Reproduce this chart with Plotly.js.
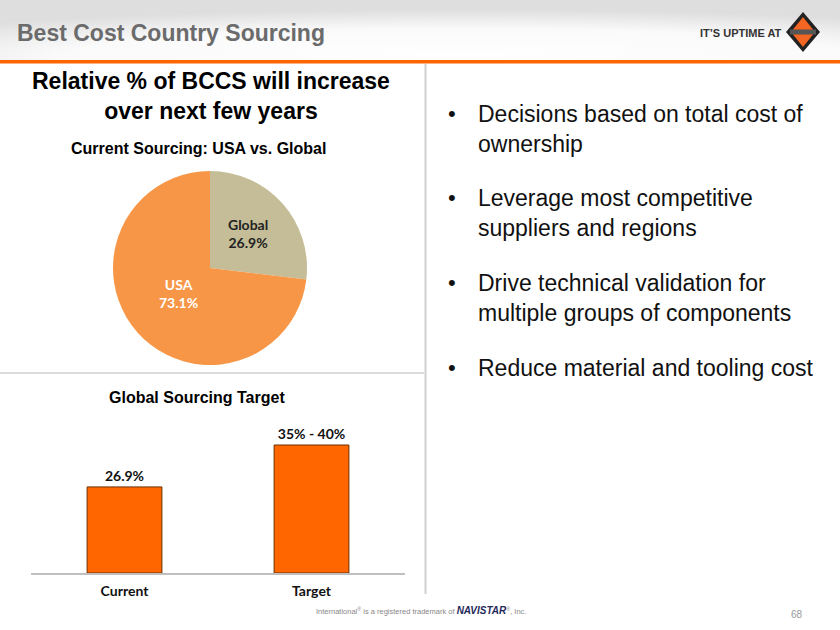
<!DOCTYPE html>
<html>
<head>
<meta charset="utf-8">
<script src="https://cdn.plot.ly/plotly-3.0.1.min.js"></script>
<style>html,body{margin:0;padding:0;background:#fff;}#chart{width:840px;height:630px;}</style>
</head>
<body>
<div id="chart"></div>
<script>
// ---- data ----
const pieLabels = ["Global", "USA"];
const pieValues = [26.9, 73.1];
const pieColors = ["#C4BD97", "#F79646"];

const barCategories = ["Current", "Target"];
const barValues = [26.9, 40];
const barLabels = ["26.9%", "35% - 40%"];

const bullets = [
  ["Decisions based on total cost of", "ownership"],
  ["Leverage most competitive", "suppliers and regions"],
  ["Drive technical validation for", "multiple groups of components"],
  ["Reduce material and tooling cost"]
];

const W = 840, H = 630;
const px = x => x / W;
const py = y => 1 - y / H;

const headerSvg = 'data:image/svg+xml;utf8,' + encodeURIComponent(
  '<svg xmlns="http://www.w3.org/2000/svg" width="840" height="61">' +
  '<defs><radialGradient id="g" cx="0.55" cy="0.95" r="0.8">' +
  '<stop offset="0" stop-color="#ffffff"/><stop offset="0.6" stop-color="#fafafa"/><stop offset="1" stop-color="#dedede"/>' +
  '</radialGradient></defs><rect width="840" height="61" fill="url(#g)"/></svg>');

const traces = [
  {
    type: "pie",
    labels: pieLabels,
    values: pieValues,
    marker: {colors: pieColors, line: {width: 0}},
    sort: false,
    direction: "clockwise",
    rotation: 0,
    textinfo: "none",
    hoverinfo: "label+percent",
    showlegend: false,
    domain: {x: [px(113), px(307)], y: [py(365), py(171)]}
  },
  {
    type: "bar",
    x: barCategories,
    y: barValues,
    text: barLabels,
    textposition: "outside",
    cliponaxis: false,
    textfont: {family: "Lato, 'Open Sans', sans-serif", size: 14, color: "#111"},
    texttemplate: "<b>%{text}</b>",
    marker: {color: "#FF6600", line: {color: "#6b3000", width: 1}},
    width: 0.4,
    xaxis: "x", yaxis: "y",
    showlegend: false
  }
];

const annotations = [
  {text: "<b>Best Cost Country Sourcing</b>", x: px(15), y: py(33), xanchor: "left", yanchor: "middle",
   font: {family: "Liberation Sans, Arial", size: 23, color: "#6b6b6b"}},
  {text: "<b>IT’S UPTIME AT</b>", x: px(784), y: py(33), xanchor: "right", yanchor: "middle",
   font: {family: "Liberation Sans Narrow, Liberation Sans, Arial", size: 11, color: "#333"}},
  {text: "<b>Relative % of BCCS will increase<br>over next few years</b>", x: px(211), y: py(96), xanchor: "center", yanchor: "middle",
   font: {family: "Liberation Sans, Arial", size: 23, color: "#000"}},
  {text: "<b>Current Sourcing: USA vs. Global</b>", x: px(198), y: py(148), xanchor: "center", yanchor: "middle",
   font: {family: "Liberation Sans, Arial", size: 16, color: "#000"}},
  {text: "<b>Global Sourcing Target</b>", x: px(197), y: py(397), xanchor: "center", yanchor: "middle",
   font: {family: "Liberation Sans, Arial", size: 16, color: "#000"}},
  {text: "<b>" + pieLabels[0] + "<br>" + pieValues[0].toFixed(1) + "%</b>", x: px(248), y: py(233), xanchor: "center", yanchor: "middle",
   font: {family: "Lato, 'Open Sans', sans-serif", size: 14, color: "#222"}},
  {text: "<b>" + pieLabels[1] + "<br>" + pieValues[1].toFixed(1) + "%</b>", x: px(178), y: py(293), xanchor: "center", yanchor: "middle",
   font: {family: "Lato, 'Open Sans', sans-serif", size: 14, color: "#fff"}},
  {text: 'International<sup>®</sup> is a registered trademark of <span style="color:#1f2a5a;font-size:10px"><b><i>NAVISTAR</i></b></span><sup>®</sup>, Inc.',
   x: px(314), y: py(610), xanchor: "left", yanchor: "middle",
   font: {family: "Liberation Sans, Arial", size: 7.5, color: "#888"}},
  {text: "68", x: px(797), y: py(614), xanchor: "center", yanchor: "middle",
   font: {family: "Liberation Sans, Arial", size: 10, color: "#999"}}
];

const bulletTop = [113, 197, 282, 367];
bullets.forEach((lines, i) => {
  annotations.push({text: "•", x: px(452), y: py(bulletTop[i]), xanchor: "center", yanchor: "middle",
    font: {family: "Liberation Sans, Arial", size: 22, color: "#111"}});
  annotations.push({text: lines.join("<br>"), x: px(476), y: py(bulletTop[i] - 14), xanchor: "left", yanchor: "top", align: "left",
    font: {family: "Liberation Sans, Arial", size: 23, color: "#111"}});
});
annotations.forEach(a => { a.xref = "paper"; a.yref = "paper"; a.showarrow = false; });

const shapes = [
  {type: "rect", xref: "paper", yref: "paper", x0: 0, x1: 1, y0: py(63.5), y1: py(60), fillcolor: "#FF6600", line: {width: 0}},
  {type: "line", xref: "paper", yref: "paper", x0: px(425.5), x1: px(425.5), y0: py(64), y1: py(594), line: {color: "#d0d0d0", width: 2}},
  {type: "line", xref: "paper", yref: "paper", x0: 0, x1: px(424), y0: py(373), y1: py(373), line: {color: "#d0d0d0", width: 1.5}},
  // logo diamond
  {type: "path", xref: "paper", yref: "paper",
   path: `M ${px(803)} ${py(12)} L ${px(820)} ${py(32)} L ${px(803)} ${py(52)} L ${px(786)} ${py(32)} Z`,
   fillcolor: "#222", line: {width: 0}},
  {type: "path", xref: "paper", yref: "paper",
   path: `M ${px(803)} ${py(17)} L ${px(815)} ${py(32)} L ${px(803)} ${py(47)} L ${px(791)} ${py(32)} Z`,
   fillcolor: "#F26522", line: {width: 0}},
  {type: "rect", xref: "paper", yref: "paper", x0: px(790), x1: px(816), y0: py(34.5), y1: py(29.5), fillcolor: "#555", line: {width: 0}}
];

const layout = {
  width: W, height: H,
  margin: {l: 0, r: 0, t: 0, b: 0},
  paper_bgcolor: "#fff", plot_bgcolor: "rgba(0,0,0,0)",
  showlegend: false,
  images: [{source: headerSvg, xref: "paper", yref: "paper", x: 0, y: 1, sizex: 1, sizey: 61 / H,
            xanchor: "left", yanchor: "top", sizing: "stretch", layer: "below"}],
  xaxis: {domain: [px(31), px(405)], range: [-0.5, 1.5], showline: true, linecolor: "#bfbfbf", linewidth: 1.5,
          ticks: "", showgrid: false, zeroline: false, fixedrange: true,
          tickfont: {family: "Lato, 'Open Sans', sans-serif", size: 14, color: "#111"},
          ticklabelstandoff: 5,
          tickvals: barCategories, ticktext: barCategories.map(c => "<b>" + c + "</b>")},
  yaxis: {domain: [py(573), py(429)], range: [0, 45], visible: false, showgrid: false, zeroline: false, fixedrange: true},
  annotations: annotations,
  shapes: shapes
};

Plotly.newPlot("chart", traces, layout, {displayModeBar: false, staticPlot: true});
</script>
</body>
</html>
